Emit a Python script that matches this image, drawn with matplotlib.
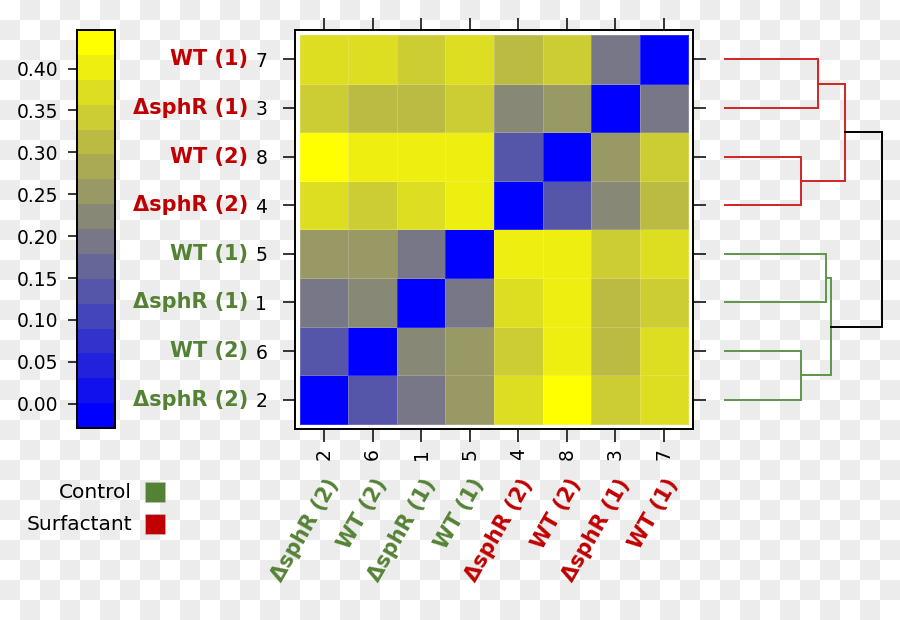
import numpy as np
import matplotlib
matplotlib.use('Agg')
import matplotlib.pyplot as plt
from matplotlib.colors import ListedColormap, BoundaryNorm
from matplotlib.patches import Rectangle

# ---------------- data ----------------
sample_ids = [1, 2, 3, 4, 5, 6, 7, 8]
sample_labels = ['ΔsphR (1)', 'ΔsphR (2)', 'ΔsphR (1)', 'ΔsphR (2)',
                 'WT (1)', 'WT (2)', 'WT (1)', 'WT (2)']
sample_groups = ['Control', 'Control', 'Surfactant', 'Surfactant',
                 'Control', 'Control', 'Surfactant', 'Surfactant']
# order of columns (left->right) and rows (bottom->top)
order = [2, 6, 1, 5, 4, 8, 3, 7]

# pairwise distances, samples 1..8
dist = [
    [0.000, 0.195, 0.310, 0.370, 0.195, 0.225, 0.340, 0.400],
    [0.195, 0.000, 0.340, 0.370, 0.255, 0.135, 0.370, 0.430],
    [0.310, 0.340, 0.000, 0.225, 0.340, 0.310, 0.195, 0.255],
    [0.370, 0.370, 0.225, 0.000, 0.400, 0.340, 0.310, 0.135],
    [0.195, 0.255, 0.340, 0.400, 0.000, 0.255, 0.370, 0.400],
    [0.225, 0.135, 0.310, 0.340, 0.255, 0.000, 0.370, 0.400],
    [0.340, 0.370, 0.195, 0.310, 0.370, 0.370, 0.000, 0.340],
    [0.400, 0.430, 0.255, 0.135, 0.400, 0.400, 0.340, 0.000],
]

colorbar_ticks = [0.00, 0.05, 0.10, 0.15, 0.20, 0.25, 0.30, 0.35, 0.40]
scale_min, scale_max = -0.029, 0.446

# dendrogram merges (relative heights, root = 1)
merge_a = ['7', '8', 'A', '5', '6', 'D', 'C']
merge_b = ['3', '4', 'B', '1', '2', 'E', 'F']
merge_name = ['A', 'B', 'C', 'D', 'E', 'F', 'G']
merge_height = [0.592, 0.487, 0.764, 0.643, 0.484, 0.675, 1.000]
merge_group = ['Surfactant', 'Surfactant', 'Surfactant', 'Control', 'Control', 'Control', None]

legend_items = ['Control', 'Surfactant']

# ---------------- style ----------------
group_text_color = {'Control': '#548235', 'Surfactant': '#C00000'}
group_line_color = {'Control': '#5f9548', 'Surfactant': '#d42424', None: 'black'}
plt.rcParams['font.family'] = ['DejaVu Sans']

W, H = 900, 620
fig = plt.figure(figsize=(9, 6.2), dpi=100)

def fx(px):
    return px / W

def fy(py):
    return 1 - py / H

# checkerboard background
ax_bg = fig.add_axes([0, 0, 1, 1])
ax_bg.set_zorder(-5)
nr, nc = 31, 45
rr, cc = np.mgrid[0:nr, 0:nc]
board = np.where((rr + cc) % 2 == 1, 0.922, 1.0)
ax_bg.imshow(board, cmap='gray', vmin=0, vmax=1, extent=[0, 1, 0, 1],
             aspect='auto', interpolation='nearest', origin='upper')
ax_bg.axis('off')

# colormap: 16 steps blue -> yellow
nb = 16
t = np.linspace(0, 1, nb)
cols = np.column_stack([t, t, 1 - t])
cmap = ListedColormap(cols)
bounds = np.linspace(scale_min, scale_max, nb + 1)
norm = BoundaryNorm(bounds, nb)

D = np.array(dist)
idx = [o - 1 for o in order]
Z = D[np.ix_(idx, idx)]

# heatmap
ax = fig.add_axes([fx(295), fy(429), fx(398), 399 / H])
ax.set_facecolor('white')
edges = np.arange(0.5, len(order) + 1, 1.0)
mesh = ax.pcolormesh(edges, edges, Z, cmap=cmap, norm=norm,
                     edgecolors=(1, 1, 1, 0.18), linewidth=0.6)
ax.set_xlim(0.397, 8.603)
ax.set_ylim(0.397, 8.603)
pos = np.arange(1, len(order) + 1)
ax.set_xticks(pos)
ax.set_yticks(pos)
ax.set_xticklabels([str(o) for o in order], rotation=90, fontsize=13.5)
ax.set_yticklabels([str(o) for o in order], fontsize=13.5)
ax.tick_params(axis='both', which='both', direction='out', length=9, width=1.1,
               top=True, right=True, labeltop=False, labelright=False)
ax.tick_params(axis='y', pad=11)
ax.tick_params(axis='x', pad=5)
for s in ax.spines.values():
    s.set_linewidth(1.4)

# colored sample labels
for k, o in enumerate(order):
    lab = sample_labels[o - 1]
    col = group_text_color[sample_groups[o - 1]]
    ax.annotate(lab, xy=(0, pos[k]), xycoords=('axes fraction', 'data'),
                xytext=(-34, 0), textcoords='offset points',
                ha='right', va='center', fontsize=15, fontweight='bold', color=col)
    ax.annotate(lab, xy=(pos[k], 0), xycoords=('data', 'axes fraction'),
                xytext=(7, -37), textcoords='offset points',
                ha='right', va='center', rotation=60, rotation_mode='anchor',
                fontsize=15, fontweight='bold', color=col)

# colorbar
cax = fig.add_axes([fx(77), fy(428), fx(38), 398 / H])
cb = fig.colorbar(mesh, cax=cax, ticks=colorbar_ticks)
cb.ax.minorticks_off()
cb.ax.yaxis.set_ticks_position('left')
cb.ax.set_yticklabels(['%.2f' % v for v in colorbar_ticks])
cb.ax.tick_params(length=6.5, width=1.1, labelsize=13.5, pad=7)
cb.outline.set_linewidth(1.4)

# dendrogram
axd = fig.add_axes([fx(725), fy(429), fx(881.7 - 725), 399 / H])
axd.set_xlim(0, 1)
axd.set_ylim(0.397, 8.603)
axd.axis('off')
ypos = {str(o): pos[k] for k, o in enumerate(order)}
hpos = {str(o): 0.0 for o in order}
for a, b, h, g, nm in zip(merge_a, merge_b, merge_height, merge_group, merge_name):
    c = group_line_color[g]
    ya, yb = ypos[a], ypos[b]
    axd.plot([hpos[a], h, h, hpos[b]], [ya, ya, yb, yb], color=c, lw=1.4,
             clip_on=False, solid_joinstyle='miter')
    ypos[nm] = (ya + yb) / 2
    hpos[nm] = h

# legend
for i, name in enumerate(legend_items):
    yc = 492 + 32 * i
    fig.text(fx(132), fy(yc), name, ha='right', va='center', fontsize=14.5)
    fig.add_artist(Rectangle((fx(145), fy(yc + 10)), fx(20), 20 / H,
                             transform=fig.transFigure,
                             facecolor=group_text_color[name],
                             edgecolor='#bbbbbb', lw=0.5))

fig.savefig('out.png', dpi=100)
